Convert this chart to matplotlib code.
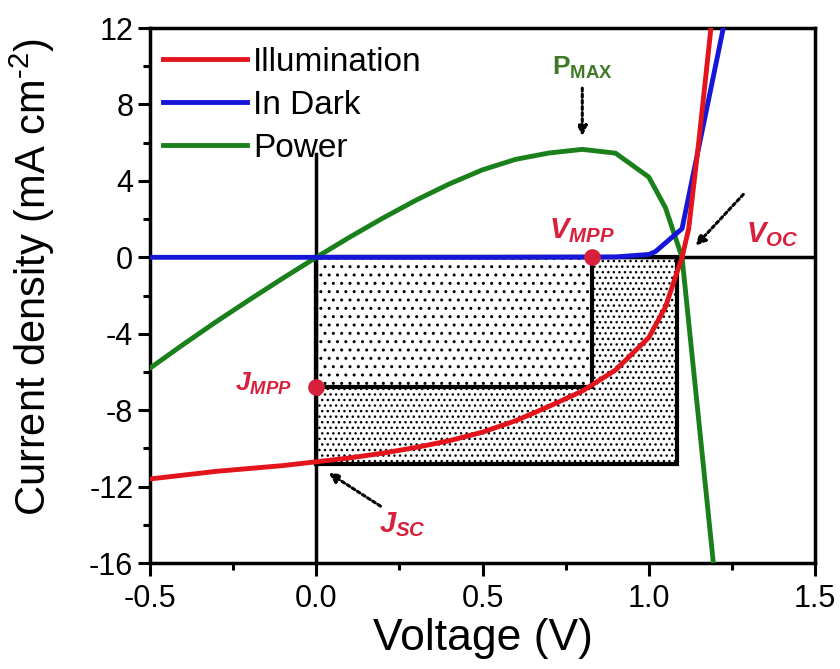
import numpy as np
import matplotlib
matplotlib.use("Agg")
import matplotlib.pyplot as plt
from matplotlib.patches import Rectangle
from matplotlib.ticker import MultipleLocator

plt.rcParams["font.family"] = ["Liberation Sans", "DejaVu Sans"]
plt.rcParams["mathtext.fontset"] = "custom"
plt.rcParams["mathtext.rm"] = "Liberation Sans"
plt.rcParams["mathtext.it"] = "Liberation Sans:italic:bold"
plt.rcParams["mathtext.bf"] = "Liberation Sans:bold"
plt.rcParams["hatch.color"] = "black"
plt.rcParams["hatch.linewidth"] = 1.0

# J-V data
v_light = [-0.5, -0.4, -0.3, -0.2, -0.1, 0.0, 0.1, 0.2, 0.3, 0.4, 0.5, 0.6,
           0.7, 0.8, 0.9, 1.0, 1.05, 1.1, 1.12, 1.15, 1.19]
j_light = [-11.6, -11.4, -11.2, -11.05, -10.9, -10.7, -10.5, -10.25, -9.95,
           -9.6, -9.15, -8.55, -7.8, -7.0, -5.9, -4.2, -2.6, 0.0, 1.5, 6.0, 12.5]

v_dark = [-0.5, 0.0, 0.5, 0.9, 1.0, 1.02, 1.1, 1.23]
j_dark = [0.0, 0.0, 0.0, 0.02, 0.15, 0.3, 1.5, 12.5]

v_power = [-0.5, -0.4, -0.3, -0.2, -0.1, 0.0, 0.1, 0.2, 0.3, 0.4, 0.5, 0.6,
           0.7, 0.8, 0.9, 1.0, 1.05, 1.1, 1.2]
p_power = [-5.8, -4.56, -3.36, -2.21, -1.09, 0.0, 1.05, 2.05, 2.99, 3.84,
           4.58, 5.13, 5.46, 5.65, 5.45, 4.2, 2.6, 0.0, -17.0]

v_mpp, j_mpp = 0.83, -6.8
v_oc, j_sc = 1.085, -10.8

red = "#e3141c"
blue = "#1616d8"
green = "#19801c"
mark = "#d8203c"

fig = plt.figure(figsize=(8.4, 6.69), dpi=100)
ax = fig.add_axes([0.1786, 0.1584, 0.7917, 0.7997])

# shaded areas
ax.add_patch(Rectangle((0, j_sc), v_oc, -j_sc, facecolor="white",
                       edgecolor="black", lw=3, hatch="...", zorder=1))
ax.add_patch(Rectangle((0, j_mpp), v_mpp, -j_mpp, facecolor="white",
                       edgecolor="black", lw=3, hatch="..", zorder=1.5))

ax.plot([0, 1.5], [0, 0], color="black", lw=2.5, zorder=2)
ax.plot([0, 0], [5.4, -16], color="black", lw=2.5, zorder=2)

ax.plot(v_power, p_power, color=green, lw=3.5, label="Power", zorder=3)
ax.plot(v_dark, j_dark, color=blue, lw=3.5, label="In Dark", zorder=3)
ax.plot(v_light, j_light, color=red, lw=3.5, label="Illumination", zorder=4)

ax.plot([v_mpp, 0], [0, j_mpp], "o", color=mark, ms=11, zorder=5)

handles, labels = ax.get_legend_handles_labels()
order = [2, 1, 0]
ax.legend([handles[i] for i in order], [labels[i] for i in order],
          loc="upper left", frameon=False, fontsize=24, handlelength=2.5,
          handletextpad=0.2, labelspacing=0.36, borderaxespad=0.0,
          bbox_to_anchor=(0.0, 0.99))

# annotations
arrow = dict(arrowstyle="-|>", linestyle=(0, (1, 1)), lw=2.2, color="black",
             mutation_scale=14)
ax.text(0.8, 9.9, r"$\mathbf{P_{MAX}}$", color="#3f7a26", fontsize=19,
        ha="center", va="center")
ax.annotate("", xy=(0.8, 6.2), xytext=(0.8, 9.0), arrowprops=arrow)
ax.text(0.80, 1.4, r"$V_{MPP}$", color=mark, fontsize=21, ha="center",
        va="center")
ax.text(1.37, 1.2, r"$V_{OC}$", color=mark, fontsize=21, ha="center",
        va="center")
ax.annotate("", xy=(1.135, 0.5), xytext=(1.29, 3.4), arrowprops=arrow)
ax.text(-0.16, -6.6, r"$J_{MPP}$", color=mark, fontsize=19, ha="center",
        va="center")
ax.text(0.26, -14.0, r"$J_{SC}$", color=mark, fontsize=21, ha="center",
        va="center")
ax.annotate("", xy=(0.03, -11.2), xytext=(0.2, -13.1), arrowprops=arrow)

ax.set_xlim(-0.5, 1.5)
ax.set_ylim(-16, 12)
ax.set_xticks([-0.5, 0.0, 0.5, 1.0, 1.5])
ax.set_yticks([-16, -12, -8, -4, 0, 4, 8, 12])
ax.set_yticklabels(["-16", "-12", "-8", "-4", "0", "4", "8", "12"])
ax.set_xticklabels(["-0.5", "0.0", "0.5", "1.0", "1.5"])
ax.xaxis.set_minor_locator(MultipleLocator(0.25))
ax.yaxis.set_minor_locator(MultipleLocator(2))
ax.tick_params(which="both", direction="out", width=2.2, labelsize=22,
               top=False, right=False)
ax.tick_params(which="major", length=9)
ax.tick_params(axis="x", which="major", pad=6)
ax.tick_params(axis="y", which="major", pad=3)
ax.tick_params(which="minor", length=5)
for s in ax.spines.values():
    s.set_linewidth(2.5)

ax.set_xlabel("Voltage (V)", fontsize=32, labelpad=3)
ax.set_ylabel(r"Current density (mA cm$^{\text{-2}}$)", fontsize=30)
ax.yaxis.set_label_coords(-0.14, 0.535)

fig.savefig("out.png", dpi=100)
